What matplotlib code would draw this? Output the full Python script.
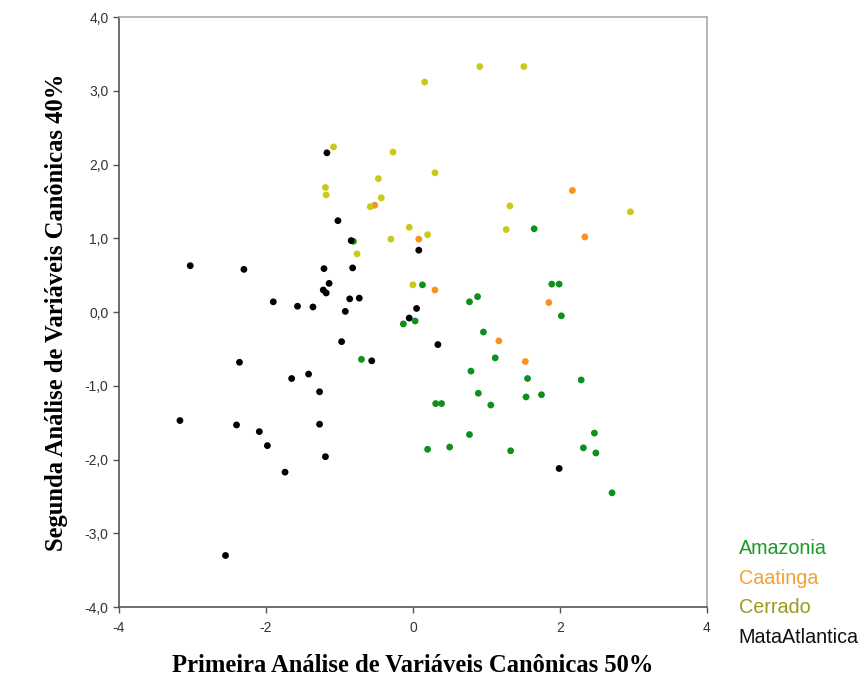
import matplotlib.pyplot as plt
from matplotlib.ticker import FuncFormatter

# Amazonia
amz_x = [-0.81, 0.13, 2.02, 1.65, 1.89, 1.99, 0.77, 0.88, -0.13, 0.03, 0.96, 1.12, 0.79, 1.56,
         2.29, 0.89, 1.54, 1.75, 0.31, 0.39, 1.06, 0.77, 2.47, 0.20, 0.50, 1.33, 2.32, 2.49,
         2.71, -0.70]
amz_y = [0.96, 0.37, -0.05, 1.13, 0.38, 0.38, 0.14, 0.21, -0.16, -0.12, -0.27, -0.62, -0.80, -0.90,
         -0.92, -1.10, -1.15, -1.12, -1.24, -1.24, -1.26, -1.66, -1.64, -1.86, -1.83, -1.88, -1.84, -1.91,
         -2.45, -0.64]

# Caatinga
caa_x = [-0.52, 0.08, 0.30, 2.17, 2.34, 1.85, 1.17, 1.53]
caa_y = [1.45, 0.99, 0.30, 1.65, 1.02, 0.13, -0.39, -0.67]

# Cerrado
cer_x = [-1.08, -0.27, -0.47, -1.19, -1.18, -0.43, -0.58, -0.05, -0.30, -0.76, 0.00,
         0.16, 0.91, 1.51, 0.30, 1.32, 2.96, 0.20, 1.27]
cer_y = [2.24, 2.17, 1.81, 1.69, 1.59, 1.55, 1.43, 1.15, 0.99, 0.79, 0.37,
         3.12, 3.33, 3.33, 1.89, 1.44, 1.36, 1.05, 1.12]

# MataAtlantica
mat_x = [-1.17, -1.02, -0.84, 0.08, -3.03, -2.30, -1.21, -0.82, -1.14, -1.22, -1.18, -1.90, -1.57,
         -1.36, -0.86, -0.73, -0.92, 0.05, -0.05, 0.34, 1.99, -0.97, -0.56, -2.36, -1.65, -1.42,
         -1.27, -3.17, -2.40, -1.27, -2.09, -1.98, -1.19, -1.74, -2.55]
mat_y = [2.16, 1.24, 0.97, 0.84, 0.63, 0.58, 0.59, 0.60, 0.39, 0.30, 0.26, 0.14, 0.08,
         0.07, 0.18, 0.19, 0.01, 0.05, -0.08, -0.44, -2.12, -0.40, -0.66, -0.68, -0.90, -0.84,
         -1.08, -1.47, -1.53, -1.52, -1.62, -1.81, -1.96, -2.17, -3.30]

groups = ["Amazonia", "Caatinga", "Cerrado", "MataAtlantica"]
colors = ["#0f8f1c", "#f7941d", "#c9c918", "#000000"]
text_colors = ["#1a9a2a", "#f5a030", "#9a9a20", "#111111"]

fig = plt.figure(figsize=(8.62, 6.86), dpi=100)
ax = fig.add_axes([0.138, 0.115, 0.682, 0.86])

for gx, gy, c in zip([amz_x, caa_x, cer_x, mat_x], [amz_y, caa_y, cer_y, mat_y], colors):
    ax.scatter(gx, gy, s=24, color=c, edgecolors="none", zorder=3)

ax.set_xlim(-4, 4)
ax.set_ylim(-4, 4)
ax.set_xticks([-4, -2, 0, 2, 4])
ax.set_yticks([-4, -3, -2, -1, 0, 1, 2, 3, 4])
ax.xaxis.set_major_formatter(FuncFormatter(lambda v, p: f"{v:.0f}"))
ax.yaxis.set_major_formatter(FuncFormatter(lambda v, p: f"{v:.1f}".replace(".", ",")))
ax.tick_params(direction="out", length=4, width=1, color="#555555", labelsize=10,
               labelcolor="#333333")
ax.tick_params(axis="x", pad=6)
for lab in ax.get_xticklabels() + ax.get_yticklabels():
    lab.set_fontfamily("Liberation Sans")

for s in ["left", "bottom"]:
    ax.spines[s].set_color("#555555")
    ax.spines[s].set_linewidth(1.2)
for s in ["top", "right"]:
    ax.spines[s].set_color("#aaaaaa")
    ax.spines[s].set_linewidth(1.2)

ax.set_xlabel("Primeira Análise de Variáveis Canônicas 50%", fontfamily="Liberation Serif",
              fontweight="bold", fontsize=17.7, labelpad=14)
ax.set_ylabel("Segunda Análise de Variáveis Canônicas 40%", fontfamily="Liberation Serif",
              fontweight="bold", fontsize=17.7, labelpad=12)

for i, (g, tc) in enumerate(zip(groups, text_colors)):
    fig.text(0.857, 0.200 - i * 0.043, g, color=tc, fontsize=14.2,
             fontfamily="Liberation Sans", va="center", ha="left")

fig.savefig("out.png", dpi=100, facecolor="white")
